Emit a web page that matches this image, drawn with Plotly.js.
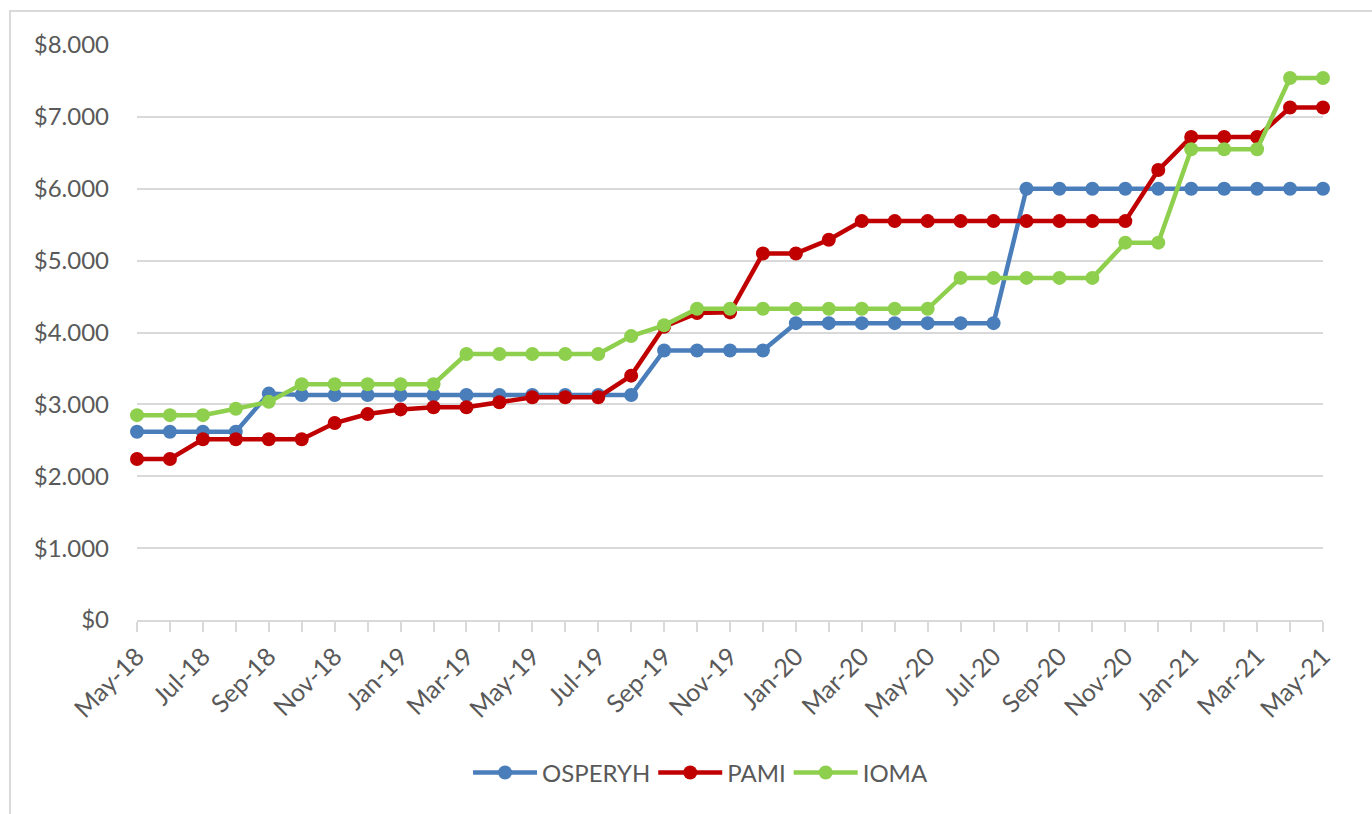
<!DOCTYPE html>
<html>
<head>
<meta charset="utf-8">
<script src="https://cdn.plot.ly/plotly-3.0.1.min.js"></script>
<style>
html,body{margin:0;padding:0;background:#fff;}
#chart{width:1372px;height:814px;}
</style>
</head>
<body>
<div id="chart"></div>
<script>
const months = ["May-18","Jun-18","Jul-18","Aug-18","Sep-18","Oct-18","Nov-18","Dec-18","Jan-19","Feb-19","Mar-19","Apr-19","May-19","Jun-19","Jul-19","Aug-19","Sep-19","Oct-19","Nov-19","Dec-19","Jan-20","Feb-20","Mar-20","Apr-20","May-20","Jun-20","Jul-20","Aug-20","Sep-20","Oct-20","Nov-20","Dec-20","Jan-21","Feb-21","Mar-21","Apr-21","May-21"];

const osperyh = [2620,2620,2620,2620,3150,3130,3130,3130,3130,3130,3130,3130,3130,3130,3130,3130,3750,3750,3750,3750,4130,4130,4130,4130,4130,4130,4130,6000,6000,6000,6000,6000,6000,6000,6000,6000,6000];
const pami    = [2240,2240,2515,2515,2515,2515,2740,2865,2930,2960,2960,3030,3100,3100,3100,3400,4080,4270,4280,5100,5100,5290,5550,5550,5550,5550,5550,5550,5550,5550,5550,6260,6720,6720,6720,7130,7130];
const ioma    = [2850,2850,2850,2940,3035,3280,3280,3280,3280,3280,3700,3700,3700,3700,3700,3950,4100,4330,4330,4330,4330,4330,4330,4330,4330,4760,4760,4760,4760,4760,5250,5250,6550,6550,6550,7540,7540];

const seriesNames = ["OSPERYH","PAMI","IOMA"];
const seriesColors = ["#4a7ebb","#c00000","#8fcf4e"];
const seriesData = [osperyh, pami, ioma];

const idx = months.map((m,i)=>i);
const traces = seriesData.map((vals,k)=>({
  x: idx,
  y: vals,
  name: seriesNames[k],
  type: 'scatter',
  mode: 'lines+markers',
  line: {color: seriesColors[k], width: 4.5},
  marker: {color: seriesColors[k], size: 14},
  cliponaxis: false,
  hoverinfo: 'skip'
}));

const ticktext = months.map((m,i)=> i%2===0 ? m : '');

const layout = {
  width: 1372, height: 814,
  margin: {l:137, r:49, t:45, b:194},
  paper_bgcolor: '#ffffff',
  plot_bgcolor: '#ffffff',
  separators: ',.',
  showlegend: true,
  font: {family: 'Lato, "Open Sans", sans-serif', color: '#595959', size: 24},
  xaxis: {
    type: 'linear',
    range: [0, 36],
    tickmode: 'array',
    tickvals: idx,
    ticktext: ticktext,
    tickangle: -45,
    ticks: 'outside',
    ticklen: 10,
    tickwidth: 2,
    tickcolor: '#d9d9d9',
    showgrid: false,
    zeroline: false,
    showline: true,
    linecolor: '#d9d9d9',
    linewidth: 2,
    tickfont: {size: 25, color: '#595959'}
  },
  yaxis: {
    range: [0, 8000],
    dtick: 1000,
    tickprefix: '$',
    tickformat: ',d',
    showgrid: true,
    gridcolor: '#d9d9d9',
    gridwidth: 2,
    zeroline: false,
    showline: false,
    ticks: '',
    ticklabelstandoff: 27,
    tickfont: {size: 24, color: '#595959'}
  },
  legend: {
    orientation: 'h',
    x: 0.476, xanchor: 'center',
    y: -0.266, yanchor: 'middle',
    font: {size: 24, color: '#595959'},
    itemwidth: 62
  },
  shapes: [{
    type: 'rect', xref: 'paper', yref: 'paper',
    x0: -0.1071, x1: 1.1, y0: -0.36, y1: 1.059,
    line: {color: '#d9d9d9', width: 2},
    fillcolor: 'rgba(0,0,0,0)',
    layer: 'below'
  }]
};

Plotly.newPlot('chart', traces, layout, {displayModeBar: false, staticPlot: true}).then(gd => {
  // lengthen legend line symbols to fill the wider item slot (Excel-style legend keys)
  gd.querySelectorAll('.legend .traces').forEach(tr => {
    tr.querySelectorAll('.legendlines path').forEach(p => p.setAttribute('d', 'M3,0h64'));
    tr.querySelectorAll('.legendpoints path').forEach(p => p.setAttribute('transform', 'translate(35,0)'));
  });
});
</script>
</body>
</html>
